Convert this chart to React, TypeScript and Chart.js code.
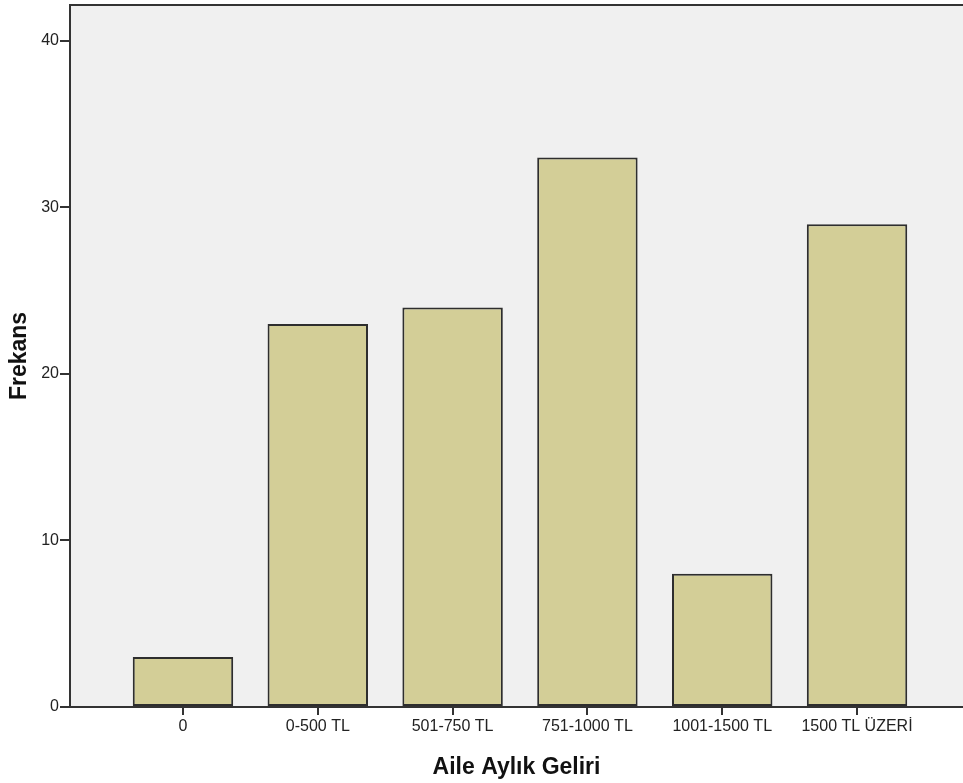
import React, { useEffect, useRef } from "react";
import { Chart, registerables } from "chart.js";

Chart.register(...registerables);

const categories = ["0", "0-500 TL", "501-750 TL", "751-1000 TL", "1001-1500 TL", "1500 TL ÜZERİ"];
const frequencies = [3, 23, 24, 33, 8, 29];
const yTicks = [0, 10, 20, 30, 40];

const FONT = "'Liberation Sans', Arial, sans-serif";

export default function App() {
  const ref = useRef<HTMLCanvasElement | null>(null);

  useEffect(() => {
    if (!ref.current) return;
    const bgPlugin = {
      id: "bgPlugin",
      beforeDraw(chart: any) {
        const { ctx, chartArea } = chart;
        ctx.save();
        ctx.fillStyle = "#f0f0f0";
        ctx.fillRect(chartArea.left, chartArea.top, chartArea.right - chartArea.left, chartArea.bottom - chartArea.top);
        ctx.restore();
      },
      afterDraw(chart: any) {
        const { ctx, chartArea } = chart;
        ctx.save();
        ctx.strokeStyle = "#333333";
        ctx.lineWidth = 2;
        ctx.beginPath();
        ctx.moveTo(chartArea.left - 1, chartArea.top);
        ctx.lineTo(chartArea.right, chartArea.top);
        ctx.stroke();
        ctx.restore();
      },
    };

    const chart = new Chart(ref.current, {
      type: "bar",
      data: {
        datasets: [
          {
            data: frequencies.map((v, i) => ({ x: i, y: v })),
            backgroundColor: "#d3ce97",
            borderColor: "#2e2e2e",
            borderWidth: 2,
            borderSkipped: false,
            barPercentage: 0.745,
            categoryPercentage: 1,
          },
        ],
      },
      options: {
        animation: false,
        responsive: false,
        maintainAspectRatio: false,
        layout: { padding: { top: 5, left: 0, right: 0, bottom: 0 } },
        plugins: {
          legend: { display: false },
          tooltip: { enabled: false },
        },
        scales: {
          x: {
            type: "linear",
            offset: false,
            min: -0.838,
            max: 5.786,
            afterBuildTicks(scale: any) {
              scale.ticks = categories.map((_, i) => ({ value: i }));
            },
            afterFit(scale: any) {
              scale.height = 76;
              scale.paddingLeft = 0;
              scale.paddingRight = 0;
            },
            ticks: {
              autoSkip: false,
              maxRotation: 0,
              color: "#222222",
              font: { family: FONT, size: 16 },
              padding: 2,
              callback: (v: any) => categories[Math.round(Number(v))] ?? "",
            },
            grid: {
              offset: false,
              drawOnChartArea: false,
              drawTicks: true,
              tickLength: 8,
              color: "#333333",
              lineWidth: 2,
            },
            border: { display: true, color: "#333333", width: 2 },
            title: {
              display: true,
              text: "Aile Aylık Geliri",
              color: "#111111",
              font: { family: FONT, size: 23, weight: "bold" },
              padding: { top: 0, bottom: 2 },
            },
          },
          y: {
            min: 0,
            max: 42.16,
            afterBuildTicks(scale: any) {
              scale.ticks = yTicks.map((v) => ({ value: v }));
            },
            afterFit(scale: any) {
              scale.width = 70;
              scale.paddingTop = 0;
              scale.paddingBottom = 0;
            },
            ticks: {
              color: "#222222",
              font: { family: FONT, size: 16 },
              padding: 1,
            },
            grid: {
              drawOnChartArea: false,
              drawTicks: true,
              tickLength: 10,
              color: "#333333",
              lineWidth: 2,
            },
            border: { display: true, color: "#333333", width: 2 },
            title: {
              display: true,
              text: "Frekans",
              color: "#111111",
              font: { family: FONT, size: 23, weight: "bold" },
              padding: { top: 6, bottom: 0 },
            },
          },
        },
      },
      plugins: [bgPlugin],
    } as any);
    return () => chart.destroy();
  }, []);

  return (
    <div style={{ position: "absolute", left: 0, top: 0, width: 963, height: 783, background: "#ffffff" }}>
      <canvas ref={ref} width={963} height={783} style={{ display: "block", width: 963, height: 783 }} />
    </div>
  );
}
